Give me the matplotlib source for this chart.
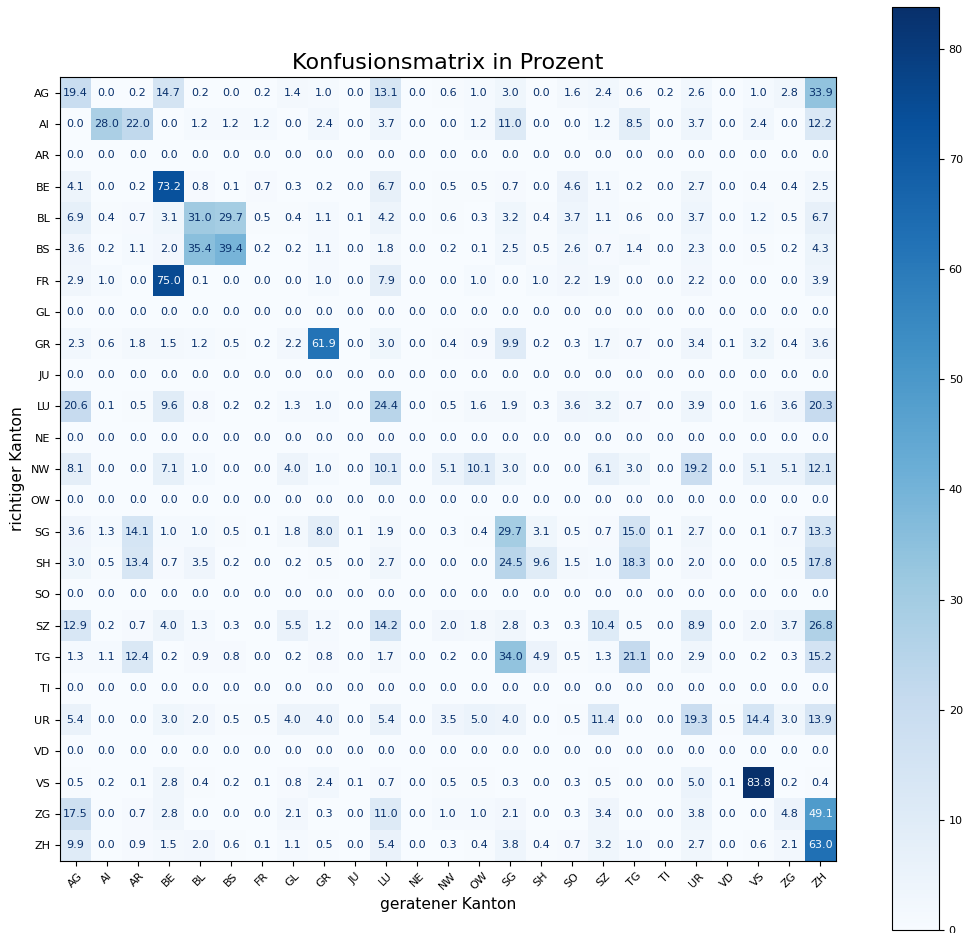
import numpy as np
import matplotlib
matplotlib.use("Agg")
import matplotlib.pyplot as plt

# - Kantone (Achsenbeschriftungen):

kantone = ["AG", "AI", "AR", "BE", "BL", "BS", "FR", "GL", "GR", "JU", "LU", "NE", "NW",
           "OW", "SG", "SH", "SO", "SZ", "TG", "TI", "UR", "VD", "VS", "ZG", "ZH"]

# - Zeilen der Konfusionsmatrix in Prozent (richtiger Kanton):

row_AG = [19.4, 0.0, 0.2, 14.7, 0.2, 0.0, 0.2, 1.4, 1.0, 0.0, 13.1, 0.0, 0.6, 1.0, 3.0, 0.0, 1.6, 2.4, 0.6, 0.2, 2.6, 0.0, 1.0, 2.8, 33.9]
row_AI = [0.0, 28.0, 22.0, 0.0, 1.2, 1.2, 1.2, 0.0, 2.4, 0.0, 3.7, 0.0, 0.0, 1.2, 11.0, 0.0, 0.0, 1.2, 8.5, 0.0, 3.7, 0.0, 2.4, 0.0, 12.2]
row_AR = [0.0] * 25
row_BE = [4.1, 0.0, 0.2, 73.2, 0.8, 0.1, 0.7, 0.3, 0.2, 0.0, 6.7, 0.0, 0.5, 0.5, 0.7, 0.0, 4.6, 1.1, 0.2, 0.0, 2.7, 0.0, 0.4, 0.4, 2.5]
row_BL = [6.9, 0.4, 0.7, 3.1, 31.0, 29.7, 0.5, 0.4, 1.1, 0.1, 4.2, 0.0, 0.6, 0.3, 3.2, 0.4, 3.7, 1.1, 0.6, 0.0, 3.7, 0.0, 1.2, 0.5, 6.7]
row_BS = [3.6, 0.2, 1.1, 2.0, 35.4, 39.4, 0.2, 0.2, 1.1, 0.0, 1.8, 0.0, 0.2, 0.1, 2.5, 0.5, 2.6, 0.7, 1.4, 0.0, 2.3, 0.0, 0.5, 0.2, 4.3]
row_FR = [2.9, 1.0, 0.0, 75.0, 0.1, 0.0, 0.0, 0.0, 1.0, 0.0, 7.9, 0.0, 0.0, 1.0, 0.0, 1.0, 2.2, 1.9, 0.0, 0.0, 2.2, 0.0, 0.0, 0.0, 3.9]
row_GL = [0.0] * 25
row_GR = [2.3, 0.6, 1.8, 1.5, 1.2, 0.5, 0.2, 2.2, 61.9, 0.0, 3.0, 0.0, 0.4, 0.9, 9.9, 0.2, 0.3, 1.7, 0.7, 0.0, 3.4, 0.1, 3.2, 0.4, 3.6]
row_JU = [0.0] * 25
row_LU = [20.6, 0.1, 0.5, 9.6, 0.8, 0.2, 0.2, 1.3, 1.0, 0.0, 24.4, 0.0, 0.5, 1.6, 1.9, 0.3, 3.6, 3.2, 0.7, 0.0, 3.9, 0.0, 1.6, 3.6, 20.3]
row_NE = [0.0] * 25
row_NW = [8.1, 0.0, 0.0, 7.1, 1.0, 0.0, 0.0, 4.0, 1.0, 0.0, 10.1, 0.0, 5.1, 10.1, 3.0, 0.0, 0.0, 6.1, 3.0, 0.0, 19.2, 0.0, 5.1, 5.1, 12.1]
row_OW = [0.0] * 25
row_SG = [3.6, 1.3, 14.1, 1.0, 1.0, 0.5, 0.1, 1.8, 8.0, 0.1, 1.9, 0.0, 0.3, 0.4, 29.7, 3.1, 0.5, 0.7, 15.0, 0.1, 2.7, 0.0, 0.1, 0.7, 13.3]
row_SH = [3.0, 0.5, 13.4, 0.7, 3.5, 0.2, 0.0, 0.2, 0.5, 0.0, 2.7, 0.0, 0.0, 0.0, 24.5, 9.6, 1.5, 1.0, 18.3, 0.0, 2.0, 0.0, 0.0, 0.5, 17.8]
row_SO = [0.0] * 25
row_SZ = [12.9, 0.2, 0.7, 4.0, 1.3, 0.3, 0.0, 5.5, 1.2, 0.0, 14.2, 0.0, 2.0, 1.8, 2.8, 0.3, 0.3, 10.4, 0.5, 0.0, 8.9, 0.0, 2.0, 3.7, 26.8]
row_TG = [1.3, 1.1, 12.4, 0.2, 0.9, 0.8, 0.0, 0.2, 0.8, 0.0, 1.7, 0.0, 0.2, 0.0, 34.0, 4.9, 0.5, 1.3, 21.1, 0.0, 2.9, 0.0, 0.2, 0.3, 15.2]
row_TI = [0.0] * 25
row_UR = [5.4, 0.0, 0.0, 3.0, 2.0, 0.5, 0.5, 4.0, 4.0, 0.0, 5.4, 0.0, 3.5, 5.0, 4.0, 0.0, 0.5, 11.4, 0.0, 0.0, 19.3, 0.5, 14.4, 3.0, 13.9]
row_VD = [0.0] * 25
row_VS = [0.5, 0.2, 0.1, 2.8, 0.4, 0.2, 0.1, 0.8, 2.4, 0.1, 0.7, 0.0, 0.5, 0.5, 0.3, 0.0, 0.3, 0.5, 0.0, 0.0, 5.0, 0.1, 83.8, 0.2, 0.4]
row_ZG = [17.5, 0.0, 0.7, 2.8, 0.0, 0.0, 0.0, 2.1, 0.3, 0.0, 11.0, 0.0, 1.0, 1.0, 2.1, 0.0, 0.3, 3.4, 0.0, 0.0, 3.8, 0.0, 0.0, 4.8, 49.1]
row_ZH = [9.9, 0.0, 0.9, 1.5, 2.0, 0.6, 0.1, 1.1, 0.5, 0.0, 5.4, 0.0, 0.3, 0.4, 3.8, 0.4, 0.7, 3.2, 1.0, 0.0, 2.7, 0.0, 0.6, 2.1, 63.0]

cm = np.array([row_AG, row_AI, row_AR, row_BE, row_BL, row_BS, row_FR, row_GL, row_GR,
               row_JU, row_LU, row_NE, row_NW, row_OW, row_SG, row_SH, row_SO, row_SZ,
               row_TG, row_TI, row_UR, row_VD, row_VS, row_ZG, row_ZH])

# - Grafik:

plt.rcParams["font.size"] = 8
plt.rcParams["axes.linewidth"] = 0.8

fig = plt.figure(figsize=(9.63, 9.33), dpi=100)
ax = fig.add_axes([0.0623, 0.0772, 0.8058, 0.8403])
cax = fig.add_axes([0.9263, 0.0032, 0.0488, 0.9893])

cmap = plt.cm.Blues
im = ax.imshow(cm, interpolation="nearest", cmap=cmap, aspect="auto")
cbar = fig.colorbar(im, cax=cax)
cbar.ax.tick_params(labelsize=8)

# - Zellenbeschriftungen (hell auf dunklen Zellen):

thresh = (cm.max() + cm.min()) / 2.0
for i in range(cm.shape[0]):
    for j in range(cm.shape[1]):
        color = cmap(0) if cm[i, j] > thresh else cmap(1.0)
        ax.text(j, i, format(cm[i, j], ".1f"), ha="center", va="center",
                color=color, fontsize=8)

ax.set_xticks(np.arange(len(kantone)))
ax.set_yticks(np.arange(len(kantone)))
ax.set_xticklabels(kantone, rotation=45, ha="center")
ax.set_yticklabels(kantone)
ax.tick_params(labelsize=8)
ax.set_xlabel("geratener Kanton", fontsize=11.2)
ax.set_ylabel("richtiger Kanton", fontsize=11.2)
ax.set_title("Konfusionsmatrix in Prozent", fontsize=16)

fig.savefig("out.png", dpi=100)
